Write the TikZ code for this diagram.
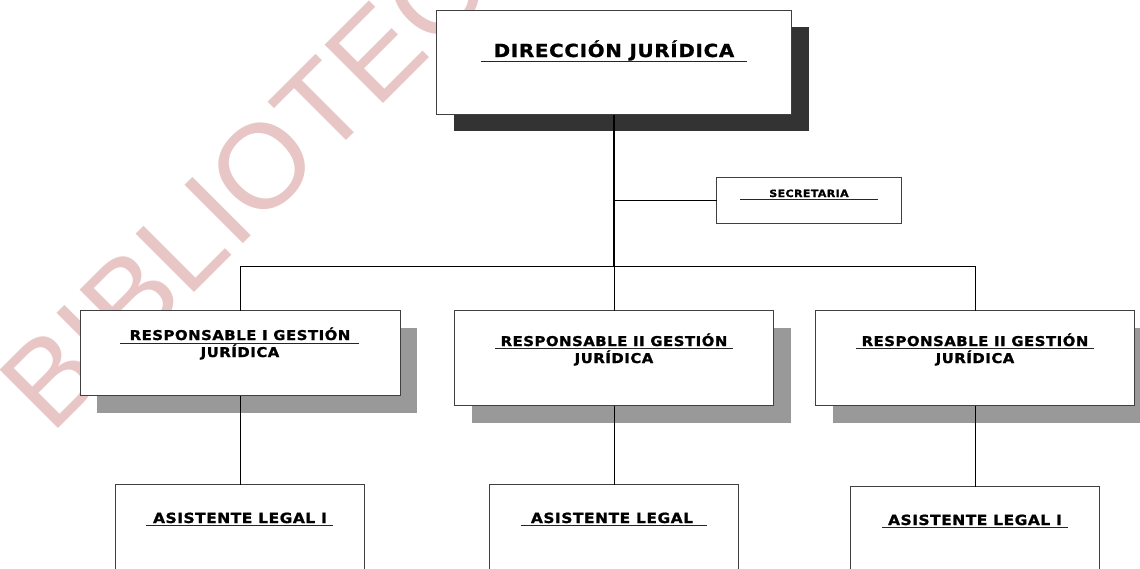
\documentclass[tikz,border=0pt]{standalone}
\usepackage{fontspec}
\setmainfont{DejaVu Sans}
\newfontfamily\lbl{DejaVu Sans}[LetterSpace=4,FakeStretch=1.1,FakeBold=1.2]
\newfontfamily\wmfont{Liberation Sans}
\definecolor{wmpink}{RGB}{233,198,198}
\definecolor{shdark}{RGB}{51,51,51}
\definecolor{shlight}{RGB}{153,153,153}
\definecolor{bord}{RGB}{64,64,64}
\tikzset{
  box/.style={draw=bord, line width=1pt, fill=white, inner sep=0pt},
  lbltext/.style={inner sep=0pt, anchor=base},
  ul/.style={line width=0.9pt, black!85},
  conn/.style={line width=0.8pt, black},
  mainconn/.style={line width=2pt, black},
}
\begin{document}
\begin{tikzpicture}[x=1pt,y=-1pt]
\clip (0,0) rectangle (1140,568);
\fill[white] (0,0) rectangle (1140,568);
% watermark
\node[rotate=45, anchor=base west, inner sep=0pt, text=wmpink, font=\wmfont\fontsize{120}{120}\selectfont] (wm) at (51,436) {BIBLIOTECA};
% boxes (positions)
\path
  node[box, minimum width=354pt, minimum height=103pt] (dir) at (614,62.5) {}
  node[box, minimum width=184pt, minimum height=45pt] (sec) at (809,200) {}
  node[box, minimum width=319pt, minimum height=84pt] (r1) at (240,353) {}
  node[box, minimum width=318pt, minimum height=94pt] (r2) at (614,358) {}
  node[box, minimum width=318pt, minimum height=94pt] (r3) at (975,358) {}
  node[box, minimum width=248pt, minimum height=120pt] (a1) at (240,545) {}
  node[box, minimum width=248pt, minimum height=120pt] (a2) at (614,545) {}
  node[box, minimum width=248pt, minimum height=120pt] (a3) at (975,547) {};
% shadows
\fill[shdark] ([shift={(17,16)}]dir.south west) rectangle ([shift={(17,16)}]dir.north east);
\foreach \n in {r1,r2,r3}
  \fill[shlight] ([shift={(17,17)}]\n.south west) rectangle ([shift={(17,17)}]\n.north east);
% boxes redrawn on top of shadows
\foreach \n in {dir,sec,r1,r2,r3,a1,a2,a3}
  \draw[bord, line width=1pt, fill=white] (\n.south west) rectangle (\n.north east);
% texts
\node[lbltext, font=\lbl\bfseries\fontsize{18}{18}\selectfont] (tdir) at (614,57) {DIRECCIÓN JURÍDICA};
\node[lbltext, font=\lbl\bfseries\fontsize{10}{10}\selectfont] (tsec) at (809,197) {SECRETARIA};
\node[lbltext, font=\lbl\bfseries\fontsize{13.5}{13.5}\selectfont] (tr1a) at (240,340) {RESPONSABLE I GESTIÓN};
\node[lbltext, font=\lbl\bfseries\fontsize{13.5}{13.5}\selectfont] (tr1b) at (240,357) {JURÍDICA};
\node[lbltext, font=\lbl\bfseries\fontsize{13.5}{13.5}\selectfont] (tr2a) at (614,346) {RESPONSABLE II GESTIÓN};
\node[lbltext, font=\lbl\bfseries\fontsize{13.5}{13.5}\selectfont] (tr2b) at (614,363) {JURÍDICA};
\node[lbltext, font=\lbl\bfseries\fontsize{13.5}{13.5}\selectfont] (tr3a) at (975,346) {RESPONSABLE II GESTIÓN};
\node[lbltext, font=\lbl\bfseries\fontsize{13.5}{13.5}\selectfont] (tr3b) at (975,363) {JURÍDICA};
\node[lbltext, font=\lbl\bfseries\fontsize{14}{14}\selectfont] (ta1) at (240,523) {ASISTENTE LEGAL I};
\node[lbltext, font=\lbl\bfseries\fontsize{14}{14}\selectfont] (ta2) at (612,523) {ASISTENTE LEGAL};
\node[lbltext, font=\lbl\bfseries\fontsize{14}{14}\selectfont] (ta3) at (975,525) {ASISTENTE LEGAL I};
% underlines
\draw[ul] (481,61) -- (747,61);
\draw[ul] (740,199) -- (878,199);
\draw[ul] (120,343) -- (359,343);
\draw[ul] (495,348) -- (733,348);
\draw[ul] (856,348) -- (1094,348);
\draw[ul] (146,525.5) -- (333,525.5);
\draw[ul] (521,525.5) -- (707,525.5);
\draw[ul] (882,527.5) -- (1068,527.5);
% connectors
\coordinate (j) at (614,266);
\draw[mainconn] (dir.south) -- (j);
\draw[conn] (sec.west) -- (sec.west -| dir.south);
\draw[conn] (r1.north) -- (r1.north |- j) -- (r3.north |- j) -- (r3.north);
\draw[conn] (j) -- (r2.north);
\draw[conn] (r1.south) -- (a1.north);
\draw[conn] (r2.south) -- (a2.north);
\draw[conn] (r3.south) -- (a3.north);
\end{tikzpicture}
\end{document}
